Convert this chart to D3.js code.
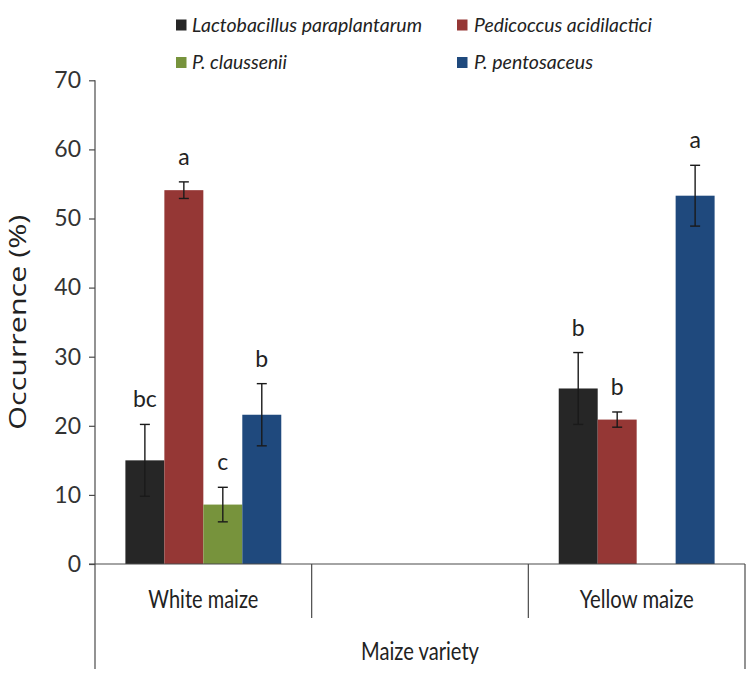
<!DOCTYPE html>
<html>
<head>
<meta charset="utf-8">
<script src="https://cdn.jsdelivr.net/npm/d3@7"></script>
<style>
  html, body { margin: 0; padding: 0; background: #fff; }
  svg { display: block; }
</style>
</head>
<body>
<svg id="chart" width="754" height="675"></svg>
<script>
// ---- data ----
const categories = ["White maize", "(blank)", "Yellow maize"];
const categoryLabels = ["White maize", "", "Yellow maize"];
const seriesNames = ["Lactobacillus paraplantarum", "Pedicoccus acidilactici", "P. claussenii", "P. pentosaceus"];
const seriesColors = ["#262626", "#953735", "#77933C", "#1F497D"];
const lactoValues = [15.0, null, 25.4];
const pediValues  = [54.1, null, 20.9];
const clausValues = [8.6, null, null];
const pentoValues = [21.6, null, 53.3];
const lactoErr = [5.2, null, 5.2];
const pediErr  = [1.2, null, 1.1];
const clausErr = [2.5, null, null];
const pentoErr = [4.5, null, 4.4];
const lactoLetters = ["bc", "", "b"];
const pediLetters  = ["a", "", "b"];
const clausLetters = ["c", "", ""];
const pentoLetters = ["b", "", "a"];
const yTicks = [0, 10, 20, 30, 40, 50, 60, 70];
const yTitle = "Occurrence (%)";
const xTitle = "Maize variety";

(function () {
const valuesBySeries = [lactoValues, pediValues, clausValues, pentoValues];
const errBySeries = [lactoErr, pediErr, clausErr, pentoErr];
const lettersBySeries = [lactoLetters, pediLetters, clausLetters, pentoLetters];

// ---- layout ----
const svg = d3.select("#chart");
const pLeft = 95, pRight = 745, pTop = 80.3, pBottom = 564;
const axisColor = "#4a4a4a";
const font = "Lato, 'Open Sans', sans-serif";

const y = d3.scaleLinear().domain([0, 70]).range([pBottom, pTop]);
const x0 = d3.scaleBand().domain(categories).range([pLeft, pRight]).paddingInner(0).paddingOuter(0);
const x1 = d3.scaleBand().domain(seriesNames).range([0, x0.bandwidth()]).paddingInner(0).paddingOuter(0.78);

const records = [];
categories.forEach((c, ci) => {
  seriesNames.forEach((s, si) => {
    records.push({cat: c, series: s, si, value: valuesBySeries[si][ci], err: errBySeries[si][ci], letter: lettersBySeries[si][ci]});
  });
});
const present = records.filter(d => d.value != null);

// bars
svg.append("g").selectAll("rect").data(present).join("rect")
  .attr("x", d => x0(d.cat) + x1(d.series))
  .attr("y", d => y(d.value))
  .attr("width", x1.bandwidth())
  .attr("height", d => y(0) - y(d.value))
  .attr("fill", d => seriesColors[d.si]);

// error bars
const eg = svg.append("g").attr("stroke", "#1a1a1a").attr("stroke-width", 1.4);
present.filter(d => d.err != null).forEach(d => {
  const cx = x0(d.cat) + x1(d.series) + x1.bandwidth() / 2;
  const y1 = y(d.value + d.err), y2 = y(d.value - d.err);
  eg.append("line").attr("x1", cx).attr("x2", cx).attr("y1", y1).attr("y2", y2);
  eg.append("line").attr("x1", cx - 5).attr("x2", cx + 5).attr("y1", y1).attr("y2", y1);
  eg.append("line").attr("x1", cx - 5).attr("x2", cx + 5).attr("y1", y2).attr("y2", y2);
});

// significance letters
svg.append("g").selectAll("text").data(present.filter(d => d.letter)).join("text")
  .attr("x", d => x0(d.cat) + x1(d.series) + x1.bandwidth() / 2)
  .attr("y", d => y(d.value + (d.err || 0)) - 17)
  .attr("text-anchor", "middle")
  .attr("font-family", font)
  .attr("font-size", 23)
  .attr("fill", "#222")
  .text(d => d.letter);

// y axis
const yAxis = d3.axisLeft(y).tickValues(yTicks).tickSize(6).tickPadding(8).tickSizeOuter(0);
const ya = svg.append("g").attr("transform", `translate(${pLeft},0)`).call(yAxis);
ya.select(".domain").remove();
ya.selectAll(".tick line").attr("stroke", axisColor).attr("stroke-width", 1.2);
ya.selectAll(".tick text").attr("font-family", font).attr("font-size", 23).attr("fill", "#333");
svg.append("line").attr("x1", pLeft).attr("x2", pLeft).attr("y1", y(70)).attr("y2", 669)
  .attr("stroke", axisColor).attr("stroke-width", 1.2);

// x axis baseline and category separators
svg.append("line").attr("x1", pLeft - 6).attr("x2", pRight).attr("y1", y(0)).attr("y2", y(0))
  .attr("stroke", axisColor).attr("stroke-width", 1.2);
categories.slice(1).forEach(c => {
  svg.append("line").attr("x1", x0(c)).attr("x2", x0(c)).attr("y1", y(0)).attr("y2", 618)
    .attr("stroke", axisColor).attr("stroke-width", 1.2);
});
svg.append("line").attr("x1", pRight).attr("x2", pRight).attr("y1", y(0)).attr("y2", 669)
  .attr("stroke", axisColor).attr("stroke-width", 1.2);

const catWidths = [110, 0, 114];
svg.append("g").selectAll("text").data(categories).join("text")
  .attr("x", d => x0(d) + x0.bandwidth() / 2)
  .attr("y", 608)
  .attr("text-anchor", "middle")
  .attr("font-family", font)
  .attr("font-size", 25)
  .attr("fill", "#222")
  .each(function (d, i) { if (catWidths[i]) d3.select(this).attr("textLength", catWidths[i]).attr("lengthAdjust", "spacingAndGlyphs"); })
  .text((d, i) => categoryLabels[i]);

svg.append("text")
  .attr("x", (pLeft + pRight) / 2).attr("y", 660)
  .attr("text-anchor", "middle")
  .attr("font-family", font).attr("font-size", 25).attr("fill", "#222")
  .attr("textLength", 118).attr("lengthAdjust", "spacingAndGlyphs")
  .text(xTitle);

svg.append("text")
  .attr("transform", `translate(26,${(pTop + pBottom) / 2}) rotate(-90)`)
  .attr("text-anchor", "middle")
  .attr("font-family", "'Open Sans', sans-serif").attr("font-size", 23).attr("fill", "#222")
  .attr("textLength", 215).attr("lengthAdjust", "spacingAndGlyphs")
  .text(yTitle);

// legend
const legendPos = [[176, 25], [457, 25], [176, 62.5], [457, 62.5]];
const legendWidths = [230, 178, 95, 119];
const lg = svg.append("g");
seriesNames.forEach((s, i) => {
  const [lx, ly] = legendPos[i];
  lg.append("rect").attr("x", lx).attr("y", ly - 5.5).attr("width", 10.5).attr("height", 11).attr("fill", seriesColors[i]);
  lg.append("text").attr("x", i % 2 ? lx + 17 : lx + 16).attr("y", ly + 6.5)
    .attr("font-family", font).attr("font-style", "italic").attr("font-size", 19.5).attr("fill", "#222")
    .attr("textLength", legendWidths[i]).attr("lengthAdjust", "spacingAndGlyphs")
    .text(s);
});
})();
</script>
</body>
</html>
